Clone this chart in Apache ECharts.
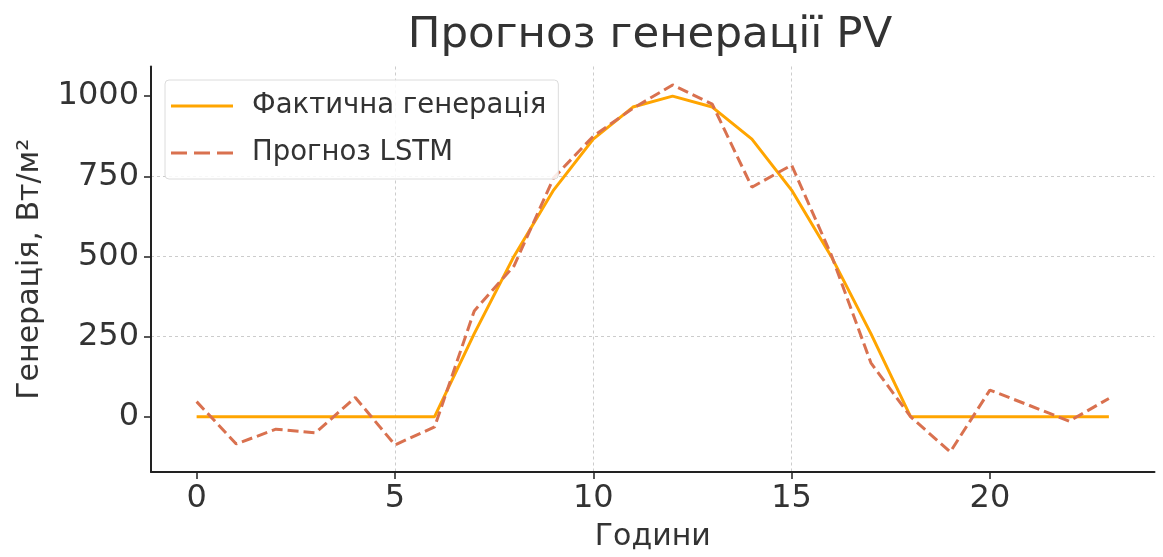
<!DOCTYPE html>
<html>
<head>
<meta charset="utf-8">
<script src="https://cdn.jsdelivr.net/npm/echarts@6/dist/echarts.min.js"></script>
<style>
html,body{margin:0;padding:0;background:#fff;}
#chart{width:1163px;height:557px;}
</style>
</head>
<body>
<div id="chart"></div>
<script>
const hours = [0,1,2,3,4,5,6,7,8,9,10,11,12,13,14,15,16,17,18,19,20,21,22,23];
const actual = [0,0,0,0,0,0,0,259,500,707,866,966,1000,966,866,707,500,259,0,0,0,0,0,0];
const forecast = [47,-85,-39,-50,60,-88,-32,330,470,745,875,962,1035,975,716,785,505,168,0,-110,83,35,-14,57];
const xTicks = [0,5,10,15,20];
const yTicks = [0,250,500,750,1000];

const chart = echarts.init(document.getElementById('chart'));
const font = 'DejaVu Sans';
chart.setOption({
  animation:false,
  backgroundColor:'#fff',
  title:{text:'Прогноз генерації PV', left:645, textAlign:'center', top:9,
    textStyle:{fontFamily:font, fontSize:43.5, fontWeight:'normal', color:'#333'}},
  grid:{left:151, right:8.5, top:66.5, bottom:85},
  legend:{
    left:165, top:80, orient:'vertical',
    itemWidth:62, itemHeight:14, itemGap:19,
    padding:[12,12,12,6],
    backgroundColor:'rgba(255,255,255,0.85)',
    borderColor:'#dcdcdc', borderWidth:1, borderRadius:4,
    textStyle:{fontFamily:font, fontSize:27.5, color:'#333', padding:[0,0,0,14]},
    data:[
      {name:'Фактична генерація', icon:'path://M0,6 L62,6 L62,9 L0,9 Z'},
      {name:'Прогноз LSTM', icon:'path://M0,6 L16,6 L16,9 L0,9 Z M23,6 L39,6 L39,9 L23,9 Z M46,6 L62,6 L62,9 L46,9 Z'}
    ]
  },
  xAxis:{
    type:'value', min:-1.15, max:24.15,
    name:'Години', nameLocation:'middle', nameGap:50,
    nameTextStyle:{fontFamily:font, fontSize:30, color:'#333'},
    axisLine:{show:true, onZero:false, lineStyle:{color:'#222', width:2}},
    axisTick:{show:true, length:7, lineStyle:{color:'#222', width:1.5}, customValues:xTicks},
    axisLabel:{fontFamily:font, fontSize:32, color:'#333', margin:11, customValues:xTicks, formatter:v=>String(v)},
    splitLine:{show:true, showMinLine:false, showMaxLine:false, lineStyle:{color:'#ccc', type:[3,3], width:1}}
  },
  yAxis:{
    type:'value', min:-172.5, max:1092.5,
    name:'Генерація, Вт/м²', nameLocation:'middle', nameGap:106,
    nameTextStyle:{fontFamily:font, fontSize:30, color:'#333'},
    axisLine:{show:true, onZero:false, lineStyle:{color:'#222', width:2}},
    axisTick:{show:true, length:7, lineStyle:{color:'#222', width:1.5}, customValues:yTicks},
    axisLabel:{fontFamily:font, fontSize:32, color:'#333', margin:12, customValues:yTicks, formatter:v=>String(v)},
    splitLine:{show:true, showMinLine:false, showMaxLine:false, lineStyle:{color:'#ccc', type:[3,3], width:1}}
  },
  series:[
    {name:'Фактична генерація', type:'line', data:hours.map((h,i)=>[h,actual[i]]),
      showSymbol:false, symbol:'none', color:'#FFA500', lineStyle:{color:'#FFA500', width:3}, z:2},
    {name:'Прогноз LSTM', type:'line', data:hours.map((h,i)=>[h,forecast[i]]),
      showSymbol:false, symbol:'none', color:'#D9714F', lineStyle:{color:'#D9714F', width:3, type:[11,5]}, z:3}
  ]
});
</script>
</body>
</html>
